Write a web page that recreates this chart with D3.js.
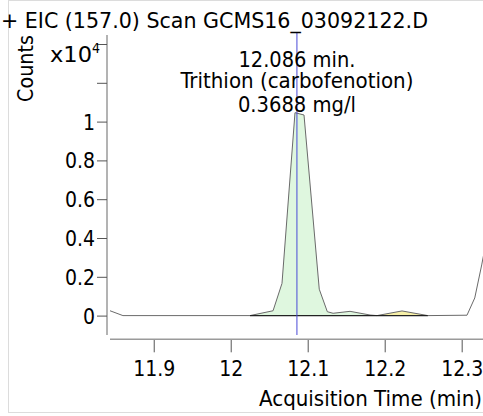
<!DOCTYPE html>
<html><head><meta charset="utf-8">
<script src="https://cdn.jsdelivr.net/npm/d3@7"></script>
<style>
html,body{margin:0;padding:0;background:#fff;}
svg{display:block;}
text{font-family:"DejaVu Sans Condensed","DejaVu Sans",sans-serif;font-stretch:condensed;fill:#000;}
</style></head>
<body>
<script>
// ---- data ----
const titleText = "+ EIC (157.0) Scan GCMS16_03092122.D";
const annotLines = ["12.086 min.", "Trithion (carbofenotion)", "0.3688 mg/l"];
const retentionTime = 12.086;
// acquisition time (min) and counts (x10^4)
const times  = [11.8432, 11.860, 12.025, 12.055, 12.0666, 12.0835, 12.0952, 12.115, 12.1255, 12.133, 12.155, 12.181, 12.190, 12.2225, 12.256, 12.3069, 12.317, 12.326, 12.337];
const counts = [0.025,   0.0,    0.0,    0.025,  0.166,   1.046,   1.034,   0.136,  0.020,   0.012,  0.022,  0.003,  0.0,    0.024,   0.0,    0.002,   0.091,  0.261,  0.49];
// integrated peak ranges
const peakStarts = [12.025, 12.190];
const peakEnds   = [12.190, 12.256];
const peakColors = ["#dff7df", "#f7f0a8"];
const xTicks = [11.9, 12.0, 12.1, 12.2, 12.3];
const xTickLabels = ["11.9", "12", "12.1", "12.2", "12.3"];
const yTicks = [0, 0.2, 0.4, 0.6, 0.8, 1.0, 1.2, 1.4];
const yTickLabels = ["0", "0.2", "0.4", "0.6", "0.8", "1", "", ""];
const xTitle = "Acquisition Time (min)";
const yTitle = "Counts";

const W = 483, H = 416;
const FS = 21;
const svg = d3.select("body").append("svg").attr("width", W).attr("height", H);

// frame
svg.append("rect").attr("x", 8.5).attr("y", 0.5).attr("width", 520).attr("height", 412)
  .attr("fill", "none").attr("stroke", "#dcdcdc");

const x = d3.scaleLinear().domain([11.8432, 12.3277]).range([110, 483]);
const y = d3.scaleLinear().domain([-0.1, 1.45]).range([335, 34.3]);

// set size, then squeeze/stretch to the reference width
function fit(sel, size, target) {
  sel.style("font-size", size + "px");
  if (target) sel.attr("textLength", target).attr("lengthAdjust", "spacingAndGlyphs");
  return sel;
}

const data = times.map((t, i) => ({t: t, v: counts[i]}));

// clip
svg.append("clipPath").attr("id", "clip").append("rect")
  .attr("x", 108).attr("y", 30).attr("width", 380).attr("height", 306);
const plot = svg.append("g").attr("clip-path", "url(#clip)");

// peak fills
peakStarts.forEach((s, k) => {
  const e = peakEnds[k];
  const pts = data.filter(d => d.t >= s - 1e-9 && d.t <= e + 1e-9);
  plot.append("path").datum(pts)
    .attr("d", d3.area().x(d => x(d.t)).y0(y(0)).y1(d => y(d.v)))
    .attr("fill", peakColors[k]).attr("stroke", "none");
});

// trace
plot.append("path").datum(data)
  .attr("d", d3.line().x(d => x(d.t)).y(d => y(d.v)))
  .attr("fill", "none").attr("stroke", "#6a6a6a").attr("stroke-width", 1);

// integration baseline
plot.append("line")
  .attr("x1", x(peakStarts[0])).attr("x2", x(peakEnds[peakEnds.length - 1]))
  .attr("y1", y(0)).attr("y2", y(0))
  .attr("stroke", "#222").attr("stroke-width", 1.3);

// retention-time marker
svg.append("line")
  .attr("x1", x(retentionTime)).attr("x2", x(retentionTime))
  .attr("y1", 33).attr("y2", 335)
  .attr("stroke", "#4a4ad8").attr("stroke-width", 1);

// axes
svg.append("line").attr("x1", 107).attr("x2", 107).attr("y1", 35).attr("y2", 335)
  .attr("stroke", "#9a9a9a").attr("stroke-width", 1.5);
const yAxis = d3.axisLeft(y).tickValues(yTicks).tickSize(10).tickPadding(2)
  .tickFormat((d, i) => yTickLabels[i]);
const ya = svg.append("g").attr("transform", "translate(107,0)").call(yAxis);
ya.select(".domain").remove();
ya.attr("font-family", null).attr("font-size", null);
ya.selectAll(".tick line").attr("stroke", "#555");
ya.selectAll(".tick text").attr("fill", "#000").attr("dy", "0.36em").style("font-size", FS + "px");

const xAxis = d3.axisBottom(x).tickValues(xTicks).tickSize(13).tickPadding(9)
  .tickFormat((d, i) => xTickLabels[i]);
const xa = svg.append("g").attr("transform", "translate(0,339.3)").call(xAxis);
xa.select(".domain").remove();
xa.attr("font-family", null).attr("font-size", null);
xa.append("line").attr("x1", 110).attr("x2", 483).attr("y1", 0).attr("y2", 0)
  .attr("stroke", "#9a9a9a").attr("stroke-width", 1.5);
xa.selectAll(".tick line").attr("stroke", "#555");
xa.selectAll(".tick text").attr("fill", "#000").attr("dy", null).attr("y", 36.4)
  .style("font-size", FS + "px");

// title
fit(svg.append("text").attr("x", 1).attr("y", 28).text(titleText), FS, 427);

// annotation
const annTargets = [117, 233, 118];
const annY = [66.7, 88.3, 111.7];
annotLines.forEach((s, i) => {
  fit(svg.append("text").attr("x", x(retentionTime) - annTargets[i] / 2).attr("y", annY[i])
    .text(s), FS, annTargets[i]);
});

// axis titles
fit(svg.append("text").attr("x", 482 - 223).attr("y", 406).text(xTitle), FS, 223);
fit(svg.append("text").attr("transform", "translate(33,102) rotate(-90)").text(yTitle), FS, 67);

// x10^4 multiplier
fit(svg.append("text").attr("x", 50).attr("y", 61.7).text("x10"), FS, 42);
svg.append("text").attr("x", 92).attr("y", 53).style("font-size", "14px").text("4");
</script>
</body></html>
